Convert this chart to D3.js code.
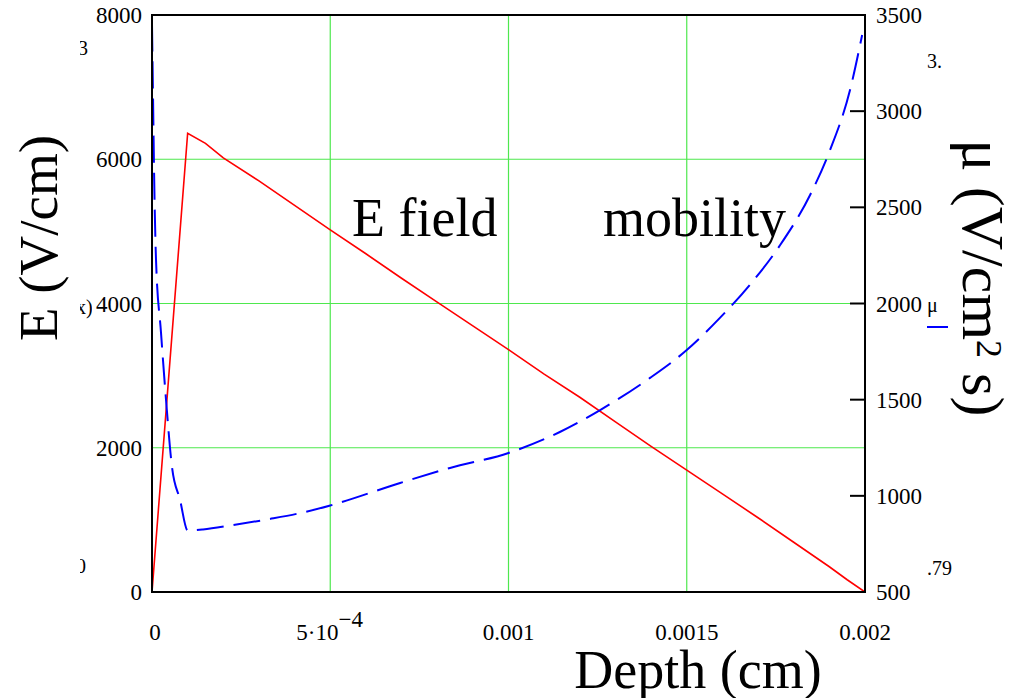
<!DOCTYPE html>
<html><head><meta charset="utf-8">
<script src="https://cdn.jsdelivr.net/npm/d3@7"></script>
<style>
html,body{margin:0;padding:0;background:#fff;}
svg{display:block;}
text{font-family:"Liberation Serif","Times New Roman",serif;fill:#000;}
</style></head>
<body>
<svg id="chart" width="1009" height="698"></svg>
<script>
// ---- data ----
const eDepth = [0, 0.0001, 0.00015, 0.0002, 0.0003, 0.0004, 0.0005, 0.0006, 0.0007, 0.0008, 0.0009, 0.001, 0.0011, 0.0012, 0.0013, 0.0014, 0.0015, 0.0016, 0.0017, 0.0018, 0.0019, 0.00195, 0.002];
const eField = [0, 6360, 6220, 6020, 5700, 5360, 5020, 4690, 4350, 4020, 3690, 3360, 3020, 2700, 2360, 2020, 1690, 1360, 1030, 690, 350, 170, 0];

const muDepth = [0, 0.000003, 0.0000056, 0.0000112, 0.0000252, 0.0000393, 0.0000561, 0.0000785, 0.0001, 0.000143, 0.000227, 0.000331, 0.000415, 0.0005, 0.000696, 0.000836, 0.001, 0.001144, 0.001257, 0.001397, 0.0015, 0.001593, 0.001677, 0.001762, 0.001846, 0.001902, 0.001958, 0.001992];
const mobility = [3450, 3060, 2710, 2230, 1850, 1500, 1150, 980, 820, 825, 848, 880, 910, 950, 1067, 1145, 1223, 1332, 1446, 1613, 1758, 1925, 2097, 2304, 2564, 2798, 3110, 3396];

const xTicks = [0, 0.0005, 0.001, 0.0015, 0.002];
const xTickLabels = ["0", "5·10|−4", "0.001", "0.0015", "0.002"];
const yLeftTicks = [0, 2000, 4000, 6000, 8000];
const yRightTicks = [500, 1000, 1500, 2000, 2500, 3000, 3500];

// ---- layout ----
const L = 152, R = 865, T = 15, B = 592;
const svg = d3.select("#chart");
const x = d3.scaleLinear().domain([0, 0.002]).range([L, R]);
const yL = d3.scaleLinear().domain([0, 8000]).range([B, T]);
const yR = d3.scaleLinear().domain([500, 3500]).range([B, T]);

svg.append("defs").append("clipPath").attr("id", "plotclip")
  .append("rect").attr("x", L).attr("y", T).attr("width", R - L).attr("height", B - T);

// grid
const grid = svg.append("g");
grid.selectAll("line.vx").data(xTicks.filter(d => d > 0 && d < 0.002)).enter().append("line")
  .attr("x1", d => x(d)).attr("x2", d => x(d)).attr("y1", T).attr("y2", B)
  .attr("stroke", "#4ee84e").attr("stroke-width", 1.2);
grid.selectAll("line.hy").data(yLeftTicks.filter(d => d > 0 && d < 8000)).enter().append("line")
  .attr("x1", L).attr("x2", R).attr("y1", d => yL(d)).attr("y2", d => yL(d))
  .attr("stroke", "#4ee84e").attr("stroke-width", 1.2);

// curves
const plot = svg.append("g").attr("clip-path", "url(#plotclip)");
const eData = eDepth.map((d, i) => [d, eField[i]]);
const mData = muDepth.map((d, i) => [d, mobility[i]]);
plot.append("path").datum(eData)
  .attr("d", d3.line().x(d => x(d[0])).y(d => yL(d[1])))
  .attr("fill", "none").attr("stroke", "#ff0000").attr("stroke-width", 1.6);
plot.append("path").datum(mData)
  .attr("d", d3.line().curve(d3.curveMonotoneX).x(d => x(d[0])).y(d => yR(d[1])))
  .attr("fill", "none").attr("stroke", "#0000ff").attr("stroke-width", 2)
  .attr("stroke-dasharray", "27,10");

// frame
const frame = svg.append("g").attr("stroke", "#000").attr("stroke-width", 2);
frame.append("line").attr("x1", L).attr("x2", L).attr("y1", T - 1).attr("y2", B + 1);
frame.append("line").attr("x1", L - 1).attr("x2", R + 1).attr("y1", B).attr("y2", B);
frame.append("line").attr("x1", L - 1).attr("x2", R + 1).attr("y1", T).attr("y2", T);
frame.append("line").attr("x1", R).attr("x2", R).attr("y1", T - 1).attr("y2", B + 1);
// right axis inward ticks
frame.selectAll("line.rt").data(yRightTicks).enter().append("line")
  .attr("x1", R - 15).attr("x2", R).attr("y1", d => yR(d)).attr("y2", d => yR(d));

// tick labels
const fs = 23;
svg.append("g").selectAll("text").data(yLeftTicks).enter().append("text")
  .attr("x", 142).attr("y", d => yL(d) + 8).attr("text-anchor", "end")
  .attr("font-size", fs).text(d => d);
svg.append("g").selectAll("text").data(yRightTicks).enter().append("text")
  .attr("x", 876).attr("y", d => yR(d) + 8).attr("text-anchor", "start")
  .attr("font-size", fs).text(d => d);
const xl = svg.append("g");
xTicks.forEach((d, i) => {
  const lab = xTickLabels[i];
  if (lab.includes("|")) {
    const [base, exp] = lab.split("|");
    const t = xl.append("text").attr("x", x(d) - 34).attr("y", 640).attr("font-size", fs);
    t.append("tspan").text(base);
    t.append("tspan").attr("dy", -13).attr("font-size", fs).text(exp);
  } else {
    xl.append("text").attr("x", x(d) + (i === 0 ? 3 : 0)).attr("y", 640)
      .attr("text-anchor", "middle").attr("font-size", fs).text(lab);
  }
});

// axis titles
svg.append("text").attr("transform", "translate(57,238) rotate(-90)")
  .attr("text-anchor", "middle").attr("font-size", 55).text("E (V/cm)");
const rt = svg.append("text").attr("transform", "translate(963,278) rotate(90)")
  .attr("text-anchor", "middle").attr("font-size", 60);
rt.append("tspan").text("μ (V/cm");
rt.append("tspan").attr("dy", -14).attr("font-size", 36).text("2");
rt.append("tspan").attr("dy", 14).text(" s)");
svg.append("text").attr("x", 698).attr("y", 688).attr("text-anchor", "middle")
  .attr("font-size", 54).text("Depth (cm)");

// in-plot labels
svg.append("text").attr("x", 352).attr("y", 236).attr("font-size", 54).text("E field");
svg.append("text").attr("x", 603).attr("y", 236).attr("font-size", 54).text("mobility");

// legend remnant
svg.append("text").attr("x", 927).attr("y", 312).attr("font-size", 20).text("μ");
svg.append("line").attr("x1", 927).attr("x2", 948).attr("y1", 327).attr("y2", 327)
  .attr("stroke", "#0000ff").attr("stroke-width", 2);

// clipped label fragments
const frag = svg.append("defs");
frag.append("clipPath").attr("id", "cr").append("rect").attr("x", 925).attr("y", 0).attr("width", 30).attr("height", 698);
frag.append("clipPath").attr("id", "cl").append("rect").attr("x", 80).attr("y", 0).attr("width", 12).attr("height", 698);
svg.append("text").attr("clip-path", "url(#cr)").attr("x", 927).attr("y", 68).attr("font-size", 20).text("3.");
svg.append("text").attr("clip-path", "url(#cr)").attr("x", 927).attr("y", 575).attr("font-size", 20).text(".79");
svg.append("text").attr("clip-path", "url(#cl)").attr("x", 78).attr("y", 55).attr("font-size", 20).text("3");
svg.append("text").attr("clip-path", "url(#cl)").attr("x", 76).attr("y", 314).attr("font-size", 20).text("x)");
svg.append("text").attr("clip-path", "url(#cl)").attr("x", 76).attr("y", 573).attr("font-size", 20).text("0");
</script>
</body></html>
